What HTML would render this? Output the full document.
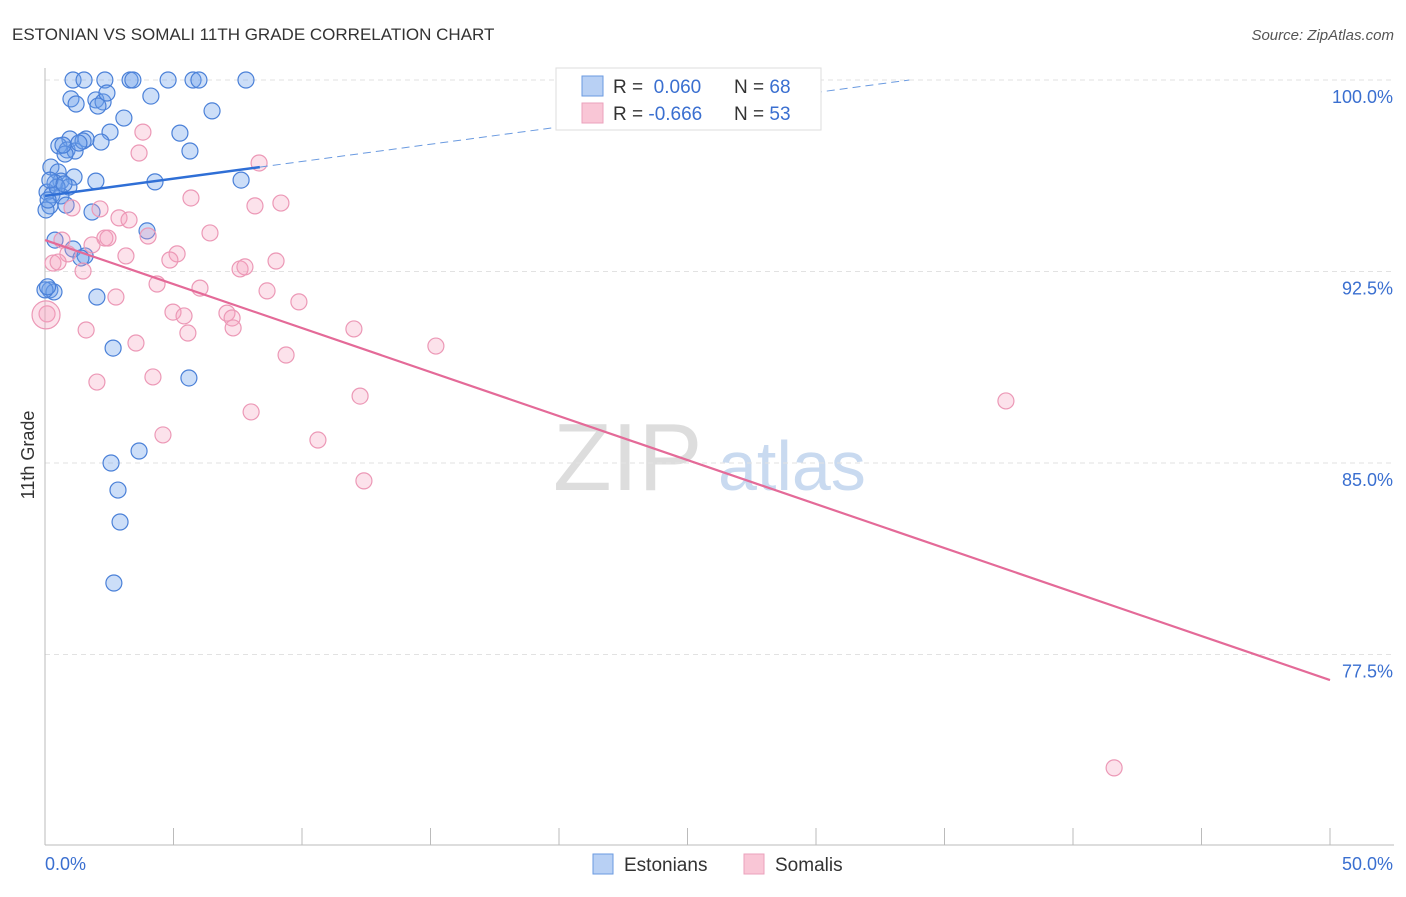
<!DOCTYPE html>
<html><head><meta charset="utf-8"><style>
body{margin:0;background:#fff;font-family:"Liberation Sans",sans-serif;}
svg text{font-family:"Liberation Sans",sans-serif;}
</style></head><body>
<svg id="c" width="1406" height="892" xmlns="http://www.w3.org/2000/svg">
<text x="12" y="40" font-size="17" fill="#333">ESTONIAN VS SOMALI 11TH GRADE CORRELATION CHART</text>
<text x="1394" y="40" font-size="15" fill="#555" font-style="italic" text-anchor="end">Source: ZipAtlas.com</text>
<g>
<text x="553" y="490" font-size="96" fill="#ddd" font-family="Liberation Serif">ZIP</text>
<text x="718" y="490" font-size="70" fill="#c9daf0">atlas</text>
</g>
<g id="grid"></g><g id="axes"></g><g id="pts"></g><g id="lines"></g>
<text transform="translate(34,455) rotate(-90)" font-size="18" fill="#333" text-anchor="middle">11th Grade</text>
<g>
<rect x="556" y="68" width="265" height="62" fill="#fff" stroke="#ddd"/>
<rect x="582" y="76" width="21" height="20" fill="#b8d0f4" stroke="#6a9ae0"/>
<rect x="582" y="103" width="21" height="20" fill="#f9c6d6" stroke="#eba2bc"/>
<text x="613" y="93" font-size="19" fill="#333">R = <tspan fill="#3a6fd0">&#160;0.060</tspan></text>
<text x="734" y="93" font-size="19" fill="#333">N = <tspan fill="#3a6fd0">68</tspan></text>
<text x="613" y="120" font-size="19" fill="#333">R = <tspan fill="#3a6fd0">-0.666</tspan></text>
<text x="734" y="120" font-size="19" fill="#333">N = <tspan fill="#3a6fd0">53</tspan></text>
</g>
<g>
<rect x="593" y="854" width="20" height="20" fill="#b8d0f4" stroke="#6a9ae0"/>
<text x="624" y="871" font-size="19" fill="#333">Estonians</text>
<rect x="744" y="854" width="20" height="20" fill="#f9c6d6" stroke="#eba2bc"/>
<text x="775" y="871" font-size="19" fill="#333">Somalis</text>
</g>
</svg>
<script>
const yTicks=[100,92.5,85,77.5];
const yTickLabels=["100.0%","92.5%","85.0%","77.5%"];
const xTickLabels=["0.0%","50.0%"];
const estX=[1.09,1.52,2.33,3.31,3.42,4.79,5.76,5.99,7.82,1.01,1.21,1.98,2.26,2.06,2.41,4.12,6.50,3.07,2.53,5.25,0.97,1.60,0.54,0.86,1.17,1.48,2.18,5.64,0.78,0.23,0.51,1.13,0.62,0.39,0.93,1.98,4.28,7.63,0.08,0.27,0.62,0.82,0.19,1.83,3.97,0.39,1.09,1.56,1.40,2.02,0.19,0.35,2.65,5.60,2.57,3.66,2.84,2.92,2.68,0.04,0.12,0.70,1.32,0.47,0.19,0.74,0.0,0.1];
const estY=[100,100,100,100,100,100,100,100,100,99.26,99.06,99.22,99.14,98.98,99.49,99.37,98.79,98.51,97.96,97.92,97.69,97.69,97.42,97.26,97.22,97.61,97.57,97.22,97.10,96.59,96.40,96.20,96.04,95.97,95.81,96.04,96.01,96.08,95.61,95.50,95.46,95.10,95.07,94.83,94.09,93.73,93.38,93.11,93.03,91.50,91.78,91.70,89.50,88.33,85.00,85.47,83.94,82.69,80.30,94.91,95.30,97.45,97.53,95.81,96.08,95.93,91.78,91.9];
const somX=[3.81,3.66,8.33,5.68,8.17,9.18,1.05,2.14,2.88,3.27,6.42,0.66,2.33,2.45,4.01,1.83,0.89,0.31,0.51,1.48,3.15,5.14,4.86,8.99,7.59,7.78,4.36,6.03,8.64,2.76,9.88,0.08,4.98,5.41,7.08,7.28,1.60,5.56,7.32,12.02,3.54,9.38,15.21,2.02,4.20,12.26,8.02,10.62,4.59,12.41,37.39,41.60,0.04];
const somY=[97.96,97.14,96.75,95.38,95.07,95.18,94.99,94.95,94.60,94.52,94.01,93.73,93.81,93.81,93.89,93.54,93.19,92.83,92.87,92.52,93.11,93.19,92.95,92.91,92.60,92.68,92.01,91.85,91.74,91.50,91.31,90.84,90.91,90.76,90.87,90.68,90.21,90.09,90.29,90.25,89.70,89.23,89.58,88.17,88.37,87.62,87.00,85.90,86.10,84.30,87.43,73.06,90.8];
const estTrend=[95.46,0.135];
const somTrend=[93.73,-0.3446];
const NS="http://www.w3.org/2000/svg";
const sx=v=>45+v/50*1285;
const sy=v=>80+(100-v)/7.5*191.5;
function mk(tag,attrs,parent){const e=document.createElementNS(NS,tag);for(const k in attrs)e.setAttribute(k,attrs[k]);document.getElementById(parent).appendChild(e);return e;}
yTicks.forEach((t,i)=>{
 const g=mk('line',{x1:45,x2:1394,y1:sy(t),y2:sy(t),stroke:'#e2e2e2','stroke-dasharray':'5,4'},'grid');
 
 
 const tx=mk('text',{x:1393,y:sy(t)+23,'font-size':18,fill:'#3a6fd0','text-anchor':'end'},'axes');
 tx.textContent=yTickLabels[i];
 
 
});
let a=mk('line',{x1:45,x2:45,y1:68,y2:845,stroke:'#bbb'},'axes');


a=mk('line',{x1:45,x2:1394,y1:845,y2:845,stroke:'#bbb'},'axes');


for(let i=0;i<=10;i++){
 const t=mk('line',{x1:sx(i*5),x2:sx(i*5),y1:828,y2:845,stroke:'#bbb'},'axes');
 
 
}
[0,50].forEach((v,i)=>{
 const t=mk('text',{x:i?1393:45,y:870,'font-size':18,fill:'#3a6fd0','text-anchor':i?'end':'start'},'axes');
 t.textContent=xTickLabels[i];
 
 
});
estX.forEach((x,i)=>{
 const c=mk('circle',{cx:sx(x),cy:sy(estY[i]),r:8,fill:'rgba(110,160,235,0.35)',stroke:'#4a80d8','stroke-width':1.2},'pts');
 
 
});
somX.forEach((x,i)=>{
 const c=mk('circle',{cx:sx(x),cy:sy(somY[i]),r:i==somX.length-1?14:8,fill:'rgba(245,160,190,0.3)',stroke:'#ec98b6','stroke-width':1.2},'pts');
 
 
});
let l=mk('line',{x1:sx(0),y1:sy(estTrend[0]),x2:sx(8.36),y2:sy(estTrend[0]+estTrend[1]*8.36),stroke:'#2f6fd6','stroke-width':2.5},'lines');


const xEnd=(100-estTrend[0])/estTrend[1];
l=mk('line',{x1:sx(8.36),y1:sy(estTrend[0]+estTrend[1]*8.36),x2:sx(xEnd),y2:sy(100),stroke:'#6a9ae0','stroke-width':1,'stroke-dasharray':'8,5'},'lines');


l=mk('line',{x1:sx(0),y1:sy(somTrend[0]),x2:sx(50),y2:sy(somTrend[0]+somTrend[1]*50),stroke:'#e46a98','stroke-width':2.2},'lines');


</script>
</body></html>
